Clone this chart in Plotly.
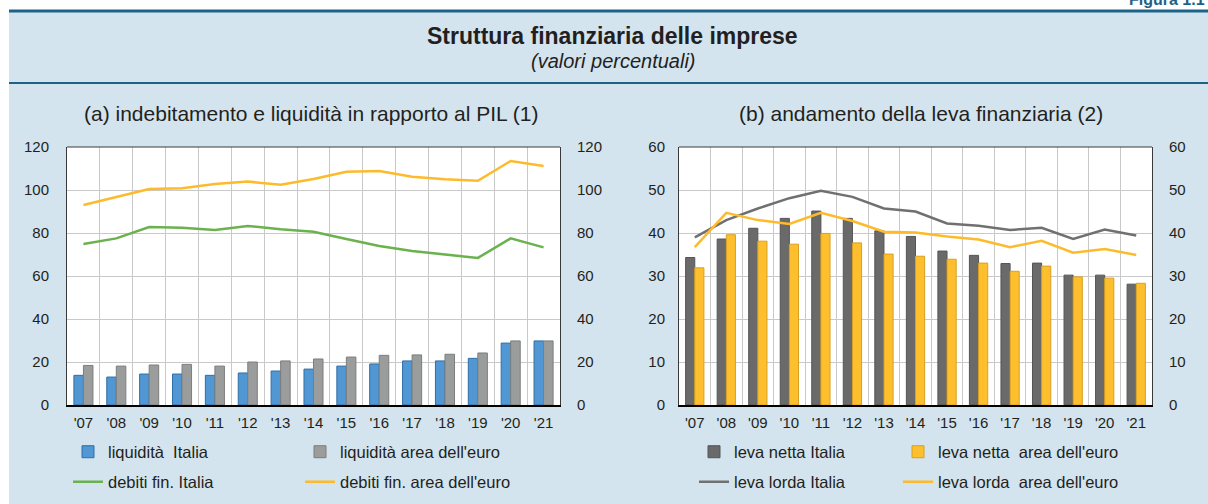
import plotly.graph_objects as go

W, H = 1208, 504

years = ["'07", "'08", "'09", "'10", "'11", "'12", "'13", "'14", "'15", "'16", "'17", "'18", "'19", "'20", "'21"]

# Panel (a)
liquidita_italia = [13.8, 13.0, 14.4, 14.4, 13.8, 14.9, 15.8, 16.7, 18.1, 19.1, 20.5, 20.5, 21.7, 28.8, 29.8]
liquidita_euro = [18.4, 18.1, 18.6, 18.9, 18.1, 20.0, 20.5, 21.4, 22.3, 23.1, 23.3, 23.6, 24.2, 29.8, 29.8]
debiti_italia = [74.9, 77.5, 82.8, 82.5, 81.4, 83.3, 81.7, 80.6, 77.2, 74.0, 71.6, 69.9, 68.4, 77.5, 73.3]
debiti_euro = [93.0, 96.7, 100.5, 100.8, 102.8, 103.9, 102.5, 105.1, 108.5, 108.8, 106.2, 105.0, 104.3, 113.5, 111.2]

# Panel (b)
leva_netta_italia = [34.3, 38.6, 41.1, 43.4, 45.1, 43.4, 40.5, 39.2, 35.8, 34.8, 32.9, 33.0, 30.2, 30.2, 28.1]
leva_netta_euro = [31.9, 39.6, 38.1, 37.4, 39.9, 37.7, 35.1, 34.6, 33.9, 33.0, 31.1, 32.3, 29.8, 29.5, 28.3]
leva_lorda_italia = [39.0, 43.0, 45.7, 48.1, 49.8, 48.4, 45.7, 45.0, 42.2, 41.7, 40.7, 41.2, 38.6, 40.8, 39.4]
leva_lorda_euro = [36.7, 44.7, 43.0, 42.1, 44.7, 42.8, 40.3, 40.1, 39.2, 38.5, 36.7, 38.2, 35.4, 36.3, 34.9]

ticks_a = [0, 20, 40, 60, 80, 100, 120]
ticks_b = [0, 10, 20, 30, 40, 50, 60]


def px(x):
    return x / W


def py(y):
    return 1 - y / H


FONT = "Liberation Sans, Arial, sans-serif"
TXT = "#231F20"
BG = "#D3E4EE"
GRID = "#C9C9C9"

fig = go.Figure()

# ---- panel (a) ----
fig.add_trace(go.Bar(x=years, y=liquidita_italia, name="liquidità\u00a0 Italia",
                     marker=dict(color="#5197D3", line=dict(color="#2F6EA5", width=1)),
                     xaxis="x", yaxis="y", legend="legend"))
fig.add_trace(go.Bar(x=years, y=liquidita_euro, name="liquidità area dell'euro",
                     marker=dict(color="#9B9D9D", line=dict(color="#7C7E7E", width=1)),
                     xaxis="x", yaxis="y", legend="legend2"))
fig.add_trace(go.Scatter(x=years, y=debiti_italia, name="debiti fin. Italia", mode="lines",
                         line=dict(color="#6BB24F", width=2.5),
                         xaxis="x", yaxis="y3", legend="legend3"))
fig.add_trace(go.Scatter(x=years, y=debiti_euro, name="debiti fin. area dell'euro", mode="lines",
                         line=dict(color="#FDBB2B", width=2.5),
                         xaxis="x", yaxis="y3", legend="legend4"))

# ---- panel (b) ----
fig.add_trace(go.Bar(x=years, y=leva_netta_italia, name="leva netta Italia",
                     marker=dict(color="#6A6A6A", line=dict(color="#555555", width=1)),
                     xaxis="x2", yaxis="y2", legend="legend5"))
fig.add_trace(go.Bar(x=years, y=leva_netta_euro, name="leva netta\u00a0 area dell'euro",
                     marker=dict(color="#FDBF2D", line=dict(color="#D9A021", width=1)),
                     xaxis="x2", yaxis="y2", legend="legend6"))
fig.add_trace(go.Scatter(x=years, y=leva_lorda_italia, name="leva lorda Italia", mode="lines",
                         line=dict(color="#707070", width=2.5),
                         xaxis="x2", yaxis="y4", legend="legend7"))
fig.add_trace(go.Scatter(x=years, y=leva_lorda_euro, name="leva lorda\u00a0 area dell'euro", mode="lines",
                         line=dict(color="#FDBB2B", width=2.5),
                         xaxis="x2", yaxis="y4", legend="legend8"))

ydom = [py(405), py(147)]
xdom_a = [px(67), px(560)]
xdom_b = [px(679), px(1152)]

xcommon = dict(type="category", tickson="boundaries", showgrid=True, gridcolor=GRID, gridwidth=1,
               showline=True, linecolor="#000000", linewidth=2, ticks="", ticklabelstandoff=3,
               automargin=False,
               tickfont=dict(size=15, color=TXT, family=FONT), fixedrange=True)


def ycommon(ticks, side, standoff, grid):
    return dict(range=[0, ticks[-1]], tickvals=ticks, showgrid=grid, gridcolor=GRID, gridwidth=1,
                showline=True, linecolor="#3A3A3A", linewidth=1, ticks="", side=side,
                ticklabelstandoff=standoff, zeroline=False, automargin=False,
                tickfont=dict(size=15, color=TXT, family=FONT), fixedrange=True, domain=ydom)


legend_base = dict(orientation="h", xanchor="left", yanchor="middle", bgcolor="rgba(0,0,0,0)",
                   borderwidth=0, itemwidth=30, font=dict(size=16.5, color=TXT, family=FONT),
                   itemclick=False, itemdoubleclick=False)

legend_pos = {
    "legend": (68, 452), "legend2": (300, 452), "legend3": (68, 482), "legend4": (300, 482),
    "legend5": (694, 452), "legend6": (898, 452), "legend7": (694, 482), "legend8": (898, 482),
}
legends = {}
for k, (lx, ly) in legend_pos.items():
    d = dict(legend_base)
    d.update(x=px(lx), y=py(ly))
    legends[k] = d

fig.update_layout(
    width=W, height=H, autosize=False,
    margin=dict(l=0, r=0, t=0, b=0, pad=0, autoexpand=False),
    paper_bgcolor="white", plot_bgcolor="white",
    font=dict(family=FONT, color=TXT),
    barmode="group", bargap=0.42, bargroupgap=0,
    showlegend=True,
    xaxis=dict(xcommon, domain=xdom_a, anchor="y"),
    xaxis2=dict(xcommon, domain=xdom_b, anchor="y2"),
    yaxis=dict(ycommon(ticks_a, "left", 14, True), anchor="x"),
    yaxis3=dict(ycommon(ticks_a, "right", 13, False), anchor="x", overlaying="y"),
    yaxis2=dict(ycommon(ticks_b, "left", 10, True), anchor="x2"),
    yaxis4=dict(ycommon(ticks_b, "right", 13, False), anchor="x2", overlaying="y2"),
    **legends,
)

shapes = [
    # light blue background
    dict(type="rect", xref="paper", yref="paper", x0=px(9), x1=1, y0=0, y1=py(11),
         fillcolor=BG, line=dict(width=0), layer="below"),
    # header lines
    dict(type="line", xref="paper", yref="paper", x0=px(9), x1=1, y0=py(11), y1=py(11),
         line=dict(color="#1D6387", width=3), layer="below"),
    dict(type="line", xref="paper", yref="paper", x0=px(9), x1=1, y0=py(83), y1=py(83),
         line=dict(color="#1D6387", width=2), layer="below"),
    # plot area backgrounds
    dict(type="rect", xref="x domain", yref="y domain", x0=0, x1=1, y0=0, y1=1,
         fillcolor="white", line=dict(width=0), layer="below"),
    dict(type="rect", xref="x2 domain", yref="y2 domain", x0=0, x1=1, y0=0, y1=1,
         fillcolor="white", line=dict(width=0), layer="below"),
    # top frame lines
    dict(type="line", xref="x domain", yref="y domain", x0=0, x1=1, y0=1, y1=1,
         line=dict(color="#3A3A3A", width=1)),
    dict(type="line", xref="x2 domain", yref="y2 domain", x0=0, x1=1, y0=1, y1=1,
         line=dict(color="#3A3A3A", width=1)),
]

annotations = [
    dict(text="<b>Figura 1.1</b>", xref="paper", yref="paper", x=px(1207), y=py(10),
         xanchor="right", yanchor="bottom", showarrow=False,
         font=dict(size=16, color="#1D6387", family=FONT)),
    dict(text="<b>Struttura finanziaria delle imprese</b>", xref="paper", yref="paper",
         x=px(612), y=py(36), xanchor="center", yanchor="middle", showarrow=False,
         font=dict(size=23, color=TXT, family=FONT)),
    dict(text="<i>(valori percentuali)</i>", xref="paper", yref="paper",
         x=px(613), y=py(61), xanchor="center", yanchor="middle", showarrow=False,
         font=dict(size=20, color=TXT, family=FONT)),
    dict(text="(a) indebitamento e liquidità in rapporto al PIL (1)", xref="paper", yref="paper",
         x=px(311), y=py(114), xanchor="center", yanchor="middle", showarrow=False,
         font=dict(size=21, color=TXT, family=FONT)),
    dict(text="(b) andamento della leva finanziaria (2)", xref="paper", yref="paper",
         x=px(921), y=py(114), xanchor="center", yanchor="middle", showarrow=False,
         font=dict(size=21, color=TXT, family=FONT)),
]

fig.update_layout(shapes=shapes, annotations=annotations)

fig.write_html("out.html", config={"displayModeBar": False},
               post_script="document.body.style.margin='0';document.body.style.overflow='hidden';")
